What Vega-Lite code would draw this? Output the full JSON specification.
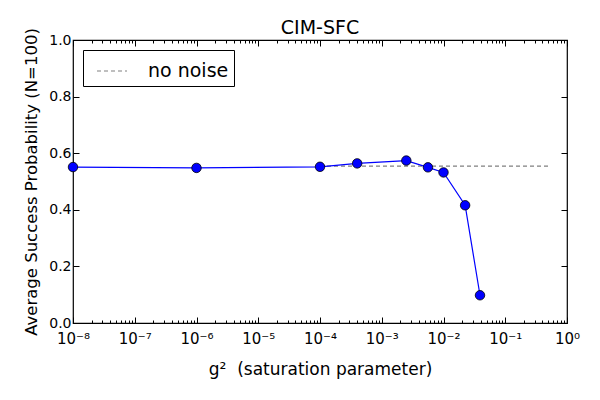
{
  "$schema": "https://vega.github.io/schema/vega-lite/v6.json",
  "width": 494,
  "height": 283,
  "autosize": "none",
  "padding": {"left": 73, "top": 40, "right": 33, "bottom": 77},
  "background": "white",
  "config": {
    "font": "DejaVu Sans",
    "view": {"stroke": "black", "strokeWidth": 1.2},
    "axis": {"grid": false, "domain": false, "tickColor": "black", "labelColor": "black", "titleColor": "black", "labelFont": "DejaVu Sans", "titleFont": "DejaVu Sans", "labelFontSize": 15, "titleFontSize": 16.5, "titleFontWeight": "normal"}
  },
  "title": {"text": "CIM-SFC", "fontSize": 19, "fontWeight": "normal", "font": "DejaVu Sans", "offset": 6, "dy": 16, "color": "black"},
  "datasets": {
    "sim": [
      {"g2": 1e-8, "p": 0.551},
      {"g2": 1e-6, "p": 0.548},
      {"g2": 1e-4, "p": 0.552},
      {"g2": 4e-4, "p": 0.564},
      {"g2": 2.5e-3, "p": 0.574},
      {"g2": 5.6e-3, "p": 0.550},
      {"g2": 1e-2, "p": 0.532},
      {"g2": 2.24e-2, "p": 0.416},
      {"g2": 3.9e-2, "p": 0.098}
    ],
    "ref": [
      {"g2": 1e-4, "p": 0.554, "label": "no noise"},
      {"g2": 0.5, "p": 0.554, "label": "no noise"}
    ]
  },
  "resolve": {"axis": {"x": "independent", "y": "independent"}},
  "layer": [
    {
      "data": {"name": "ref"},
      "mark": {"type": "line", "color": "gray", "strokeWidth": 1.2},
      "encoding": {
        "x": {"field": "g2", "type": "quantitative",
          "scale": {"type": "log", "domain": [1e-8, 1], "nice": false},
          "axis": {"orient": "bottom", "title": "g²\u00a0\u00a0(saturation parameter)", "titlePadding": 12, "titleFontSize": 17,
            "values": [1e-8,2e-8,3e-8,4e-8,5e-8,6e-8,7e-8,8e-8,9e-8,1e-7,2e-7,3e-7,4e-7,5e-7,6e-7,7e-7,8e-7,9e-7,1e-6,2e-6,3e-6,4e-6,5e-6,6e-6,7e-6,8e-6,9e-6,1e-5,2e-5,3e-5,4e-5,5e-5,6e-5,7e-5,8e-5,9e-5,1e-4,2e-4,3e-4,4e-4,5e-4,6e-4,7e-4,8e-4,9e-4,1e-3,2e-3,3e-3,4e-3,5e-3,6e-3,7e-3,8e-3,9e-3,1e-2,2e-2,3e-2,4e-2,5e-2,6e-2,7e-2,8e-2,9e-2,1e-1,2e-1,3e-1,4e-1,5e-1,6e-1,7e-1,8e-1,9e-1,1],
            "labelExpr": "abs(log(datum.value)/LN10 - round(log(datum.value)/LN10)) < 0.001 ? ({'-8':'10⁻⁸','-7':'10⁻⁷','-6':'10⁻⁶','-5':'10⁻⁵','-4':'10⁻⁴','-3':'10⁻³','-2':'10⁻²','-1':'10⁻¹','0':'10⁰'})[''+round(log(datum.value)/LN10)] : ''",
            "tickSize": {"condition": {"test": "abs(log(datum.value)/LN10 - round(log(datum.value)/LN10)) < 0.001", "value": -6}, "value": -3},
            "labelPadding": 14, "labelFlush": false, "labelOverlap": false}},
        "y": {"field": "p", "type": "quantitative",
          "scale": {"domain": [0, 1], "nice": false},
          "axis": {"orient": "left", "title": "Average Success Probability (N=100)", "titlePadding": 9, "labelFontSize": 14,
            "values": [0, 0.2, 0.4, 0.6, 0.8, 1.0], "format": ".1f", "tickSize": -6, "labelPadding": 8, "labelFlush": false}},
        "strokeDash": {"field": "label", "type": "nominal", "scale": {"range": [[4, 3]]},
          "legend": {"title": null, "orient": "top-left", "offset": 10, "labelFontSize": 19, "labelFont": "DejaVu Sans", "labelColor": "black",
            "symbolType": "stroke", "symbolSize": 900, "symbolStrokeColor": "gray", "symbolStrokeWidth": 1.2, "symbolDash": [4, 3],
            "strokeColor": "black", "fillColor": "white", "padding": 5, "symbolOffset": 8, "labelOffset": 20, "cornerRadius": 0}}
      }
    },
    {
      "data": {"name": "sim"},
      "mark": {"type": "line", "color": "blue", "strokeWidth": 1.2},
      "encoding": {
        "x": {"field": "g2", "type": "quantitative", "axis": {"orient": "top", "title": null, "labels": false,
            "values": [1e-8,2e-8,3e-8,4e-8,5e-8,6e-8,7e-8,8e-8,9e-8,1e-7,2e-7,3e-7,4e-7,5e-7,6e-7,7e-7,8e-7,9e-7,1e-6,2e-6,3e-6,4e-6,5e-6,6e-6,7e-6,8e-6,9e-6,1e-5,2e-5,3e-5,4e-5,5e-5,6e-5,7e-5,8e-5,9e-5,1e-4,2e-4,3e-4,4e-4,5e-4,6e-4,7e-4,8e-4,9e-4,1e-3,2e-3,3e-3,4e-3,5e-3,6e-3,7e-3,8e-3,9e-3,1e-2,2e-2,3e-2,4e-2,5e-2,6e-2,7e-2,8e-2,9e-2,1e-1,2e-1,3e-1,4e-1,5e-1,6e-1,7e-1,8e-1,9e-1,1],
            "tickSize": {"condition": {"test": "abs(log(datum.value)/LN10 - round(log(datum.value)/LN10)) < 0.001", "value": -6}, "value": -3}}},
        "y": {"field": "p", "type": "quantitative", "axis": {"orient": "right", "title": null, "labels": false, "values": [0, 0.2, 0.4, 0.6, 0.8, 1.0], "tickSize": -6}}
      }
    },
    {
      "data": {"name": "sim"},
      "mark": {"type": "point", "filled": true, "fill": "blue", "stroke": "black", "strokeWidth": 0.8, "size": 90, "opacity": 1, "clip": false},
      "encoding": {
        "x": {"field": "g2", "type": "quantitative", "axis": null},
        "y": {"field": "p", "type": "quantitative", "axis": null}
      }
    }
  ]
}
